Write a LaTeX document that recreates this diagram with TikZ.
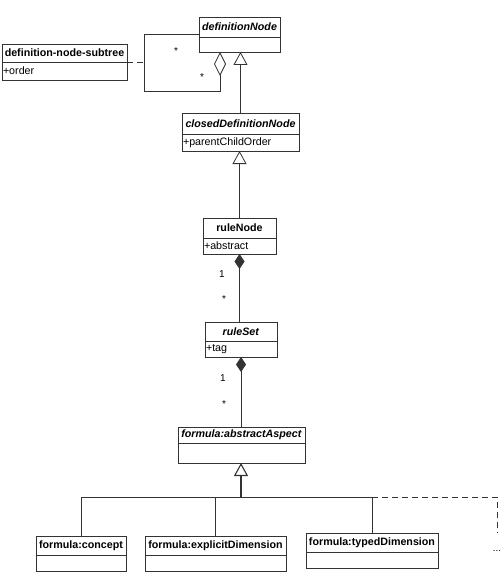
\documentclass[tikz,border=0pt]{standalone}
\usepackage{fontspec}
\setmainfont{Liberation Sans}
\usetikzlibrary{arrows.meta,calc}
\begin{document}
\begin{tikzpicture}[x=1pt,y=-1pt,
 every node/.style={outer sep=0pt},
 hd/.style={draw=black!80, line width=0.8pt, font=\fontsize{10.7}{12}\selectfont\bfseries, inner sep=0pt, anchor=north west, fill=white},
 bd/.style={draw=black!80, line width=0.8pt, font=\fontsize{10.7}{12}\selectfont, inner xsep=1pt, inner ysep=0pt, anchor=north west, align=left},
 ln/.style={draw=black!80, line width=0.8pt},
 gen/.style={ln, -{Triangle[open, length=13pt, width=14pt]}},
 agg/.style={ln, {Diamond[open, length=24pt, width=12pt]}-},
 comp/.style={ln, {Diamond[length=15pt, width=10pt, fill=black!80]}-},
 lbl/.style={font=\fontsize{10}{11}\selectfont, inner sep=0pt},
 dsh/.style={ln, dash pattern=on 6pt off 4pt}
]
\useasboundingbox (0,0) rectangle (503,588);

% classes
\node[hd, minimum width=81pt, minimum height=20pt] (defH) at (199,17) {\textit{definitionNode}};
\node[bd, text width=79pt, minimum height=15pt] (defB) at (defH.south west) {};

\node[hd, minimum width=125pt, minimum height=18pt] (subH) at (2,44) {definition-node-subtree};
\node[bd, text width=123pt, minimum height=18pt] (subB) at (subH.south west) {+order};

\node[hd, minimum width=117pt, minimum height=21pt] (cdH) at (182,113) {\textit{closedDefinitionNode}};
\node[bd, text width=115pt, minimum height=17pt] (cdB) at (cdH.south west) {+parentChildOrder};

\node[hd, minimum width=73pt, minimum height=20pt] (rnH) at (203,218) {ruleNode};
\node[bd, text width=71pt, minimum height=16pt] (rnB) at (rnH.south west) {+abstract};

\node[hd, minimum width=72pt, minimum height=19pt] (rsH) at (205,322) {\textit{ruleSet}};
\node[bd, text width=70pt, minimum height=16pt] (rsB) at (rsH.south west) {+tag};

\node[hd, minimum width=127pt, minimum height=16pt] (aaH) at (178,427) {\textit{formula:abstractAspect}};
\node[bd, text width=125pt, minimum height=20pt] (aaB) at (aaH.south west) {};

\node[hd, minimum width=90pt, minimum height=19pt] (conH) at (36,536) {formula:concept};
\node[bd, text width=88pt, minimum height=16pt] (conB) at (conH.south west) {};

\node[hd, minimum width=141pt, minimum height=19pt] (expH) at (145,536) {formula:explicitDimension};
\node[bd, text width=139pt, minimum height=16pt] (expB) at (expH.south west) {};

\node[hd, minimum width=132pt, minimum height=19pt] (typH) at (306,533) {formula:typedDimension};
\node[bd, text width=130pt, minimum height=16pt] (typB) at (typH.south west) {};

% aggregation
\coordinate (aggA) at ($(defB.south west)+(21,0)$);
\coordinate (brTop) at ($(defH.south west)+(0,-3)$);
\draw[agg] (aggA) -- ++(0,39) -| ($(brTop)+(-55,0)$) -- (brTop);
\draw[dsh] (subB.north east) -- ++(17,0);
\node[lbl] (s1) at (176,51) {*};
\node[lbl] (s2) at (202,77) {*};

% generalizations
\draw[gen] (cdH.north) -- (cdH.north |- defB.south);
\draw[gen] (rnH.north) -- (rnH.north |- cdB.south);

% compositions
\draw[comp] (rnB.south) -- (rnB.south |- rsH.north);
\node[lbl] (m1) at (222,274) {1};
\node[lbl] (m2) at (224,299) {*};
\draw[comp] (rsB.south) -- (rsB.south |- aaH.north);
\node[lbl] (m3) at (223,378) {1};
\node[lbl] (m4) at (224,404) {*};

% tree
\coordinate (bar) at (241,497);
\draw[gen, line width=1.1pt] (bar) -- (bar |- aaB.south);
\draw[ln] (conH.north) |- (bar);
\draw[ln] (expH.north) |- (bar);
\draw[ln] (typH.north) |- (bar);
\coordinate (more) at (497,533);
\draw[dsh] (typH.north |- bar) -| (more);
\node[lbl] (dots) at (497,551) {...};
\end{tikzpicture}
\end{document}
